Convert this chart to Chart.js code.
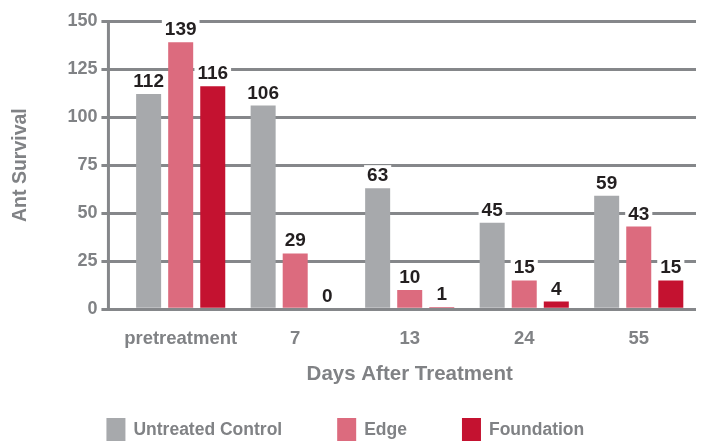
<!DOCTYPE html>
<html>
<head>
<meta charset="utf-8">
<script src="https://cdn.jsdelivr.net/npm/chart.js@4.4.0/dist/chart.umd.min.js"></script>
<style>
  html, body { margin: 0; padding: 0; background: #fff; }
  #wrap { width: 707px; height: 447px; }
</style>
</head>
<body>
<div id="wrap"><canvas id="chart"></canvas></div>
<script>
// data
const categories = ["pretreatment", "7", "13", "24", "55"];
const untreated = [112, 106, 63, 45, 59];
const edge = [139, 29, 10, 15, 43];
const foundation = [116, 0, 1, 4, 15];

const GRID = "#85878a";
const TEXT = "#808285";
const FONT = "'Liberation Sans', Arial, sans-serif";

// -------------------------------
// Value labels on top of each bar (white box hides the grid line)
// -------------------------------
const valueLabels = {
  id: "valueLabels",
  afterDatasetsDraw(chart) {
    const ctx = chart.ctx;
    ctx.save();
    ctx.font = "bold 19px " + FONT;
    ctx.textAlign = "center";
    ctx.textBaseline = "alphabetic";
    chart.data.datasets.forEach((ds, i) => {
      chart.getDatasetMeta(i).data.forEach((bar, j) => {
        const txt = String(ds.data[j]);
        const w = ctx.measureText(txt).width;
        const base = bar.y - 7;
        ctx.fillStyle = "#fff";
        ctx.fillRect(bar.x - w / 2 - 3, base - 16, w + 6, 19);
        ctx.fillStyle = "#231f20";
        ctx.fillText(txt, bar.x, base);
      });
    });
    ctx.restore();
  },
};

// -------------------------------
// Vertical axis line, set a bit left of the first category
// -------------------------------
const axisLine = {
  id: "axisLine",
  beforeDatasetsDraw(chart) {
    const { ctx, chartArea, scales } = chart;
    ctx.save();
    ctx.strokeStyle = GRID;
    ctx.lineWidth = 3;
    ctx.beginPath();
    ctx.moveTo(chartArea.left - 15, scales.y.getPixelForValue(150));
    ctx.lineTo(chartArea.left - 15, scales.y.getPixelForValue(0) + 1.5);
    ctx.stroke();
    ctx.restore();
  },
};

// -------------------------------
// Legend along the bottom: big boxes, wide gaps
// -------------------------------
const bottomLegend = {
  id: "bottomLegend",
  afterDraw(chart) {
    const { ctx, chartArea } = chart;
    ctx.save();
    ctx.font = "bold 17.5px " + FONT;
    ctx.textBaseline = "middle";
    ctx.textAlign = "left";
    let x = chartArea.left - 17;
    const y = 418;
    chart.data.datasets.forEach((ds) => {
      ctx.fillStyle = ds.backgroundColor;
      ctx.fillRect(x, y, 19, 23);
      x += 19 + 8;
      ctx.fillStyle = TEXT;
      ctx.fillText(ds.label, x, y + 12);
      x += ctx.measureText(ds.label).width + 55;
    });
    ctx.restore();
  },
};

new Chart(document.getElementById("chart"), {
  type: "bar",
  data: {
    labels: categories,
    datasets: [
      { label: "Untreated Control", data: untreated, backgroundColor: "#a7a9ac" },
      { label: "Edge", data: edge, backgroundColor: "#dc6b7e" },
      { label: "Foundation", data: foundation, backgroundColor: "#c41230" },
    ],
  },
  options: {
    responsive: true,
    maintainAspectRatio: false,
    animation: false,
    categoryPercentage: 0.84,
    barPercentage: 0.78,
    layout: { padding: { top: 21, right: 11, left: 9, bottom: 60 } },
    plugins: {
      tooltip: { enabled: false },
      legend: { display: false },
    },
    scales: {
      x: {
        grid: { display: false },
        border: { display: false },
        ticks: {
          color: TEXT,
          padding: 11,
          maxRotation: 0,
          autoSkip: false,
          font: { family: FONT, size: 18.5, weight: "bold" },
        },
        title: {
          display: true,
          text: "Days After Treatment",
          color: TEXT,
          padding: { top: 1, bottom: 0 },
          font: { family: FONT, size: 20.5, weight: "bold" },
        },
      },
      y: {
        min: 0,
        max: 150,
        ticks: {
          stepSize: 25,
          color: TEXT,
          padding: 4,
          font: { family: FONT, size: 18, weight: "bold" },
        },
        grid: { color: GRID, lineWidth: 3, tickLength: 22 },
        border: { display: false },
        title: {
          display: true,
          text: "Ant Survival",
          color: TEXT,
          padding: { top: 0, bottom: 31 },
          font: { family: FONT, size: 19.5, weight: "bold" },
        },
      },
    },
  },
  plugins: [axisLine, valueLabels, bottomLegend],
});
</script>
</body>
</html>
